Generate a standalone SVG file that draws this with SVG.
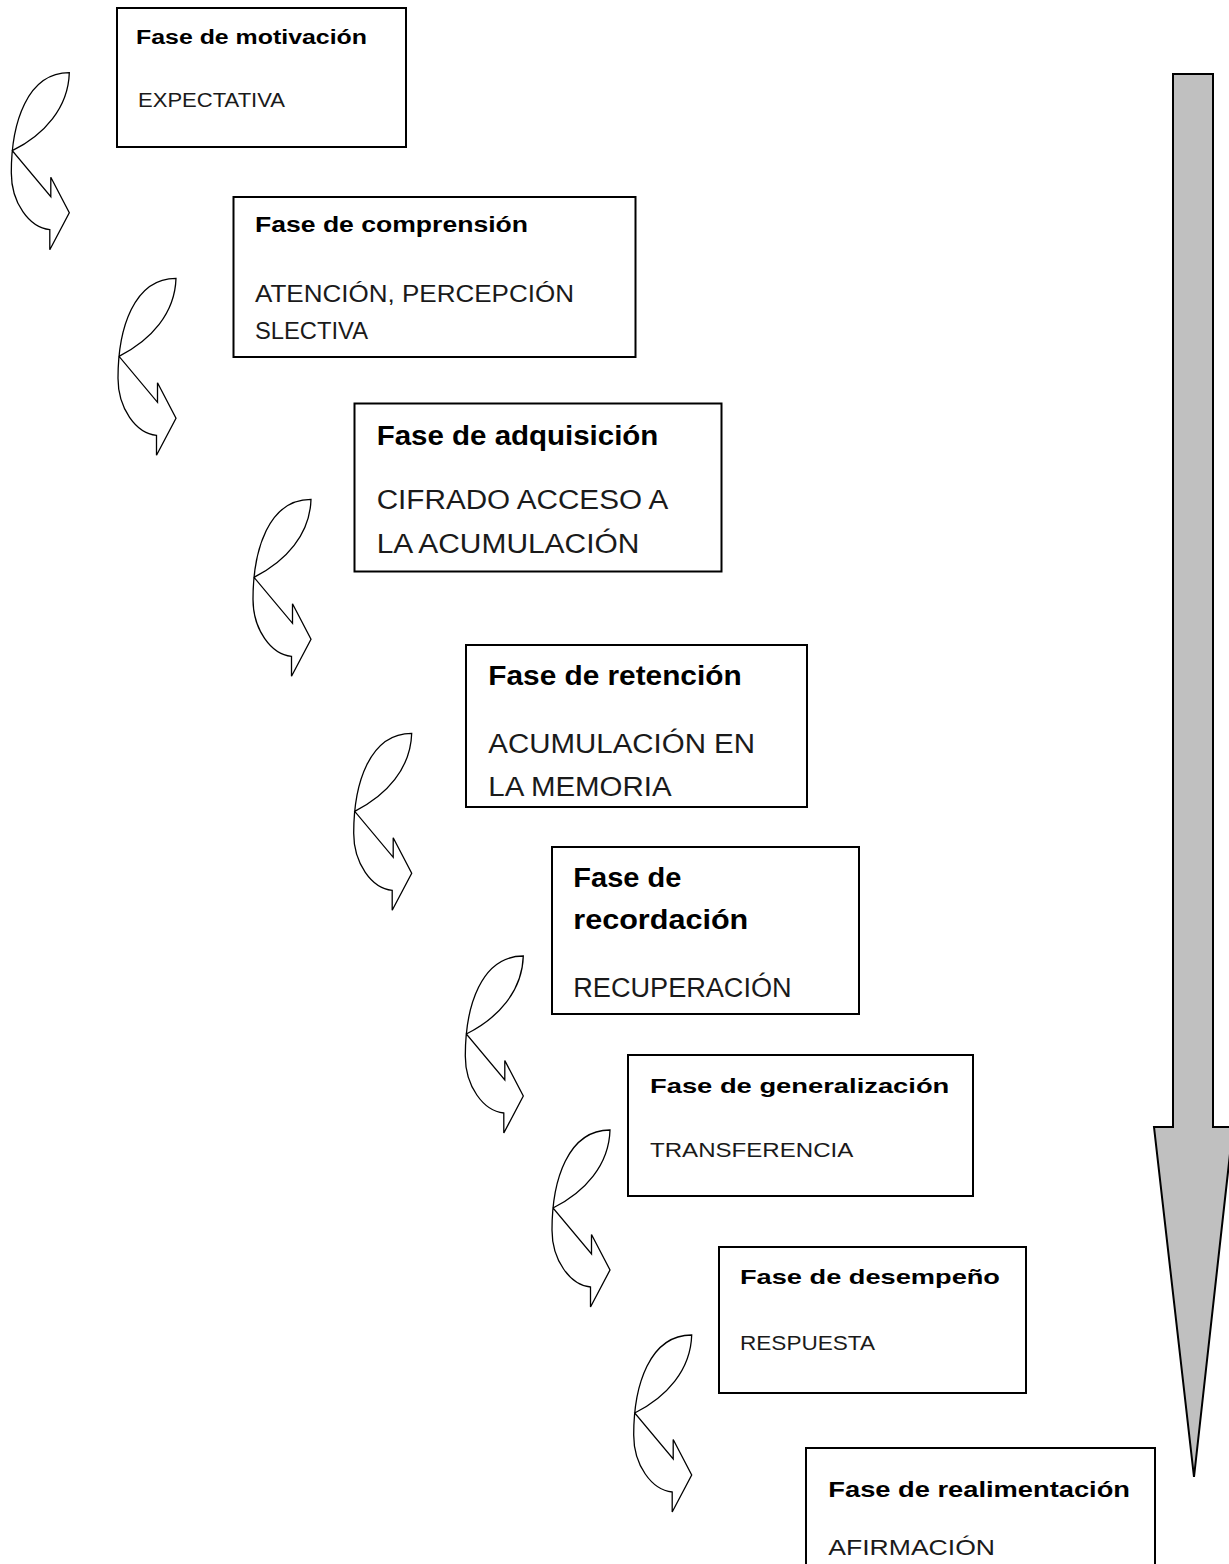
<svg xmlns="http://www.w3.org/2000/svg" xmlns:xlink="http://www.w3.org/1999/xlink" width="1229" height="1564" viewBox="0 0 1229 1564">
<style>
.box{fill:#ffffff;stroke:#000000;stroke-width:2}
.t{font-family:"Liberation Sans",Arial,sans-serif;font-weight:bold;fill:#000000}
.b{font-family:"Liberation Sans",Arial,sans-serif;fill:#1a1a1a}
.ca{fill:#ffffff;stroke:#000000;stroke-width:1.3;stroke-linejoin:miter}
.big{fill:#c0c0c0;stroke:#000000;stroke-width:2}
</style>
<defs>
<path id="carrow" d="M 0,0 C -1,35 -25,62 -57,78 L -18.5,124 L -18.5,104.5 L 0,140 L -19.5,177 L -19.5,157 C -40,155 -58,130 -58,100 C -58,50 -42,0 0,0 Z"/>
</defs>
<rect width="1229" height="1564" fill="#ffffff"/>
<g id="connectors">
<use xlink:href="#carrow" class="ca" transform="translate(69.3,72.7)"/>
<use xlink:href="#carrow" class="ca" transform="translate(176,278.3)"/>
<use xlink:href="#carrow" class="ca" transform="translate(311,499.3)"/>
<use xlink:href="#carrow" class="ca" transform="translate(411.7,733.3)"/>
<use xlink:href="#carrow" class="ca" transform="translate(523.3,956)"/>
<use xlink:href="#carrow" class="ca" transform="translate(610,1130)"/>
<use xlink:href="#carrow" class="ca" transform="translate(691.7,1335)"/>
<path id="big-arrow" class="big" d="M 1173,74 L 1213,74 L 1213,1127 L 1233,1127 L 1194,1477 L 1154,1127 L 1173,1127 Z"/>
</g>
<g id="n1">
<rect class="box" x="117" y="8" width="289" height="139"/>
<text class="t" x="136" y="43.5" font-size="19.5" textLength="231" lengthAdjust="spacingAndGlyphs">Fase de motivación</text>
<text class="b" x="138" y="106.5" font-size="19.5" textLength="147" lengthAdjust="spacingAndGlyphs">EXPECTATIVA</text>
</g>
<g id="n2">
<rect class="box" x="233.5" y="197" width="402" height="160"/>
<text class="t" x="255" y="232" font-size="22" textLength="273" lengthAdjust="spacingAndGlyphs">Fase de comprensión</text>
<text class="b" x="255" y="302" font-size="23" textLength="319" lengthAdjust="spacingAndGlyphs">ATENCIÓN, PERCEPCIÓN</text>
<text class="b" x="255" y="339" font-size="23" textLength="113" lengthAdjust="spacingAndGlyphs">SLECTIVA</text>
</g>
<g id="n3">
<rect class="box" x="354.5" y="403.5" width="367" height="168"/>
<text class="t" x="376.7" y="445" font-size="27" textLength="281.7" lengthAdjust="spacingAndGlyphs">Fase de adquisición</text>
<text class="b" x="376.7" y="508.5" font-size="27" textLength="291.7" lengthAdjust="spacingAndGlyphs">CIFRADO ACCESO A</text>
<text class="b" x="376.7" y="552.5" font-size="27" textLength="262.7" lengthAdjust="spacingAndGlyphs">LA ACUMULACIÓN</text>
</g>
<g id="n4">
<rect class="box" x="466" y="645" width="341" height="162"/>
<text class="t" x="488.3" y="685" font-size="27" textLength="253.3" lengthAdjust="spacingAndGlyphs">Fase de retención</text>
<text class="b" x="488.3" y="753" font-size="27" textLength="266.7" lengthAdjust="spacingAndGlyphs">ACUMULACIÓN EN</text>
<text class="b" x="488.3" y="796" font-size="27" textLength="183.3" lengthAdjust="spacingAndGlyphs">LA MEMORIA</text>
</g>
<g id="n5">
<rect class="box" x="552" y="847" width="307" height="167"/>
<text class="t" x="573.3" y="887" font-size="27" textLength="108" lengthAdjust="spacingAndGlyphs">Fase de</text>
<text class="t" x="573.3" y="928.5" font-size="27" textLength="175" lengthAdjust="spacingAndGlyphs">recordación</text>
<text class="b" x="573.3" y="996.5" font-size="27" textLength="218.3" lengthAdjust="spacingAndGlyphs">RECUPERACIÓN</text>
</g>
<g id="n6">
<rect class="box" x="628" y="1055" width="345" height="141"/>
<text class="t" x="650" y="1093" font-size="21" textLength="299.3" lengthAdjust="spacingAndGlyphs">Fase de generalización</text>
<text class="b" x="650" y="1157" font-size="21" textLength="203.3" lengthAdjust="spacingAndGlyphs">TRANSFERENCIA</text>
</g>
<g id="n7">
<rect class="box" x="719" y="1247" width="307" height="146"/>
<text class="t" x="740" y="1283.5" font-size="21" textLength="260" lengthAdjust="spacingAndGlyphs">Fase de desempeño</text>
<text class="b" x="740" y="1350" font-size="21" textLength="135" lengthAdjust="spacingAndGlyphs">RESPUESTA</text>
</g>
<g id="n8">
<rect class="box" x="806" y="1448" width="349" height="130"/>
<text class="t" x="828.3" y="1496.5" font-size="22" textLength="301.7" lengthAdjust="spacingAndGlyphs">Fase de realimentación</text>
<text class="b" x="828.3" y="1555" font-size="22" textLength="166.7" lengthAdjust="spacingAndGlyphs">AFIRMACIÓN</text>
</g>
</svg>
